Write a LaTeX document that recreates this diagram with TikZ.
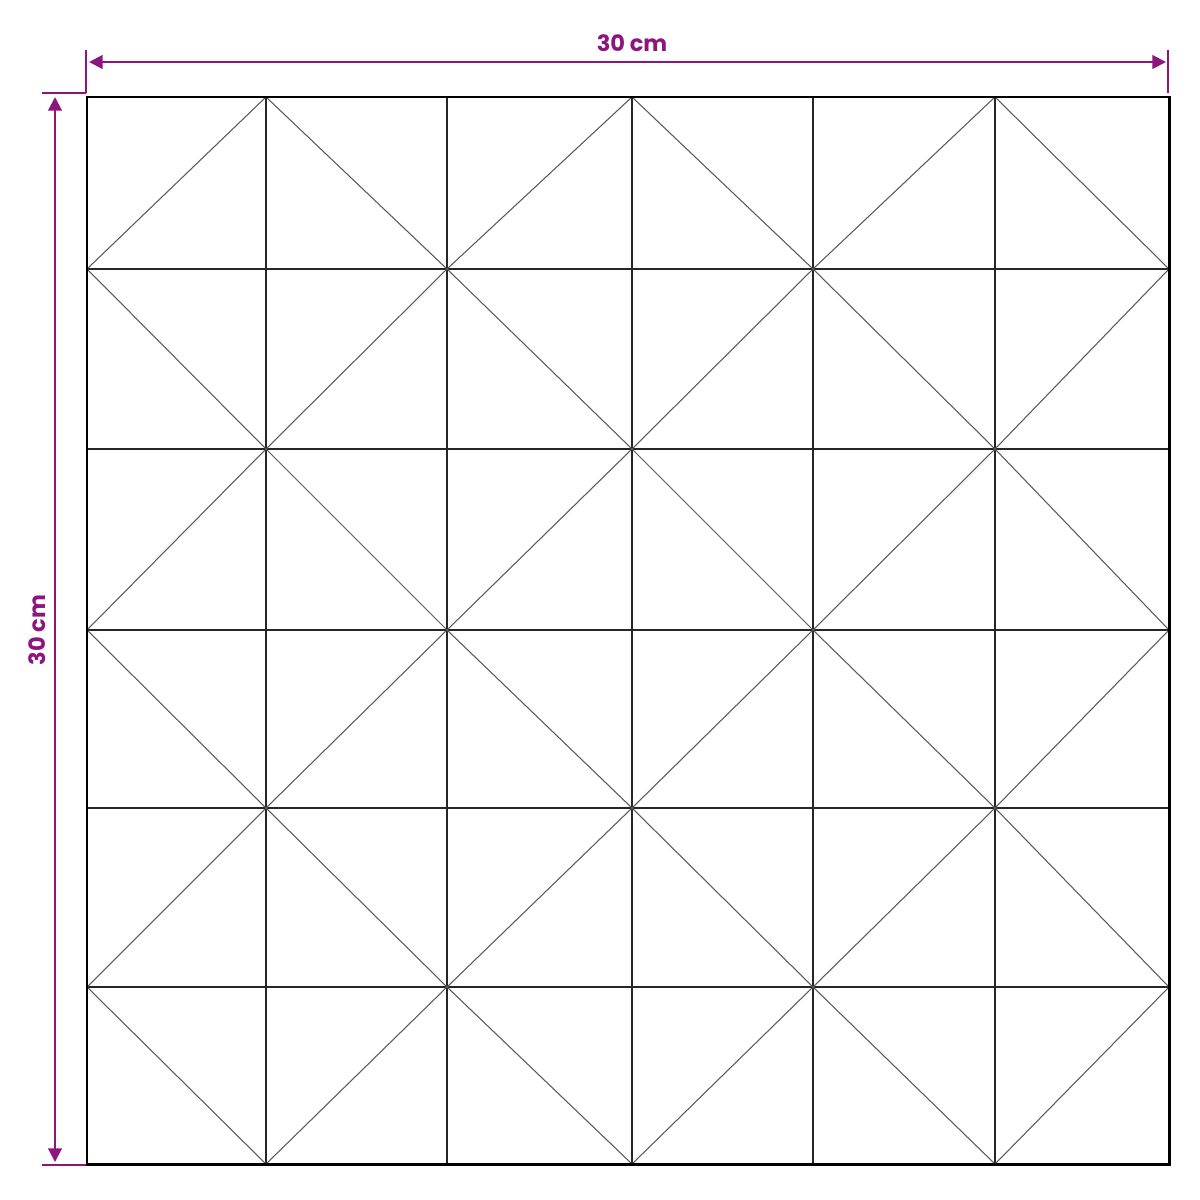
\documentclass[tikz,border=0pt]{standalone}
\usepackage{fontspec}
\setmainfont{Poppins}
\usetikzlibrary{arrows.meta}
\definecolor{dimpurple}{RGB}{140,22,125}
\begin{document}
\begin{tikzpicture}[x=0.01cm,y=-0.01cm,
  border/.style={line width=0.85pt,black},
  gridline/.style={line width=0.45pt,black!85},
  diag/.style={line width=0.3pt,black!65},
  dimline/.style={line width=0.6pt,dimpurple},
  dimarrow/.style={dimline,{Triangle[length=3.9pt,width=3.9pt]}-{Triangle[length=3.9pt,width=3.9pt]}},
  dimlabel/.style={text=dimpurple,font=\fontsize{6.4}{7.5}\selectfont\bfseries,inner sep=0pt}]
\useasboundingbox (0,0) rectangle (1200,1200);
\def\xs{{87,266,447,632,813,995,1169}}
\def\ys{{97,269,449,630,808,987,1164}}
% inner grid lines
\foreach \i in {1,...,5}{
  \pgfmathsetmacro\gx{\xs[\i]}
  \pgfmathsetmacro\gy{\ys[\i]}
  \draw[gridline] (\gx,97) -- (\gx,1164);
  \draw[gridline] (87,\gy) -- (1169,\gy);
}
% diagonals
\foreach \r in {0,...,5}{
  \pgfmathsetmacro\yt{\ys[\r]}
  \pgfmathsetmacro\yb{\ys[\r+1]}
  \pgfmathtruncatemacro\odd{mod(\r,2)}
  \foreach \c in {0,2,4}{
    \pgfmathsetmacro\xa{\xs[\c]}
    \pgfmathsetmacro\xb{\xs[\c+1]}
    \pgfmathsetmacro\xc{\xs[\c+2]}
    \ifnum\odd=0
      \draw[diag] (\xa,\yb) -- (\xb,\yt) -- (\xc,\yb);
    \else
      \draw[diag] (\xa,\yt) -- (\xb,\yb) -- (\xc,\yt);
    \fi
  }
}
% outer border
\draw[border] (87,97) rectangle (1169,1164);
% dimension: top
\coordinate (tl) at (89,62);
\coordinate (tr) at (1166,62);
\draw[dimline] (86,50) -- (86,93);
\draw[dimline] (1168,50) -- (1168,93);
\draw[dimarrow] (tl) -- (tr);
\node[dimlabel] (toplabel) at (632,43) {30 cm};
% dimension: left
\coordinate (lt) at (55,97);
\coordinate (lb) at (55,1162);
\draw[dimline] (42,93) -- (86,93);
\draw[dimline] (42,1165) -- (86,1165);
\draw[dimarrow] (lt) -- (lb);
\node[dimlabel,rotate=90] (leftlabel) at (37,630) {30 cm};
\end{tikzpicture}
\end{document}
